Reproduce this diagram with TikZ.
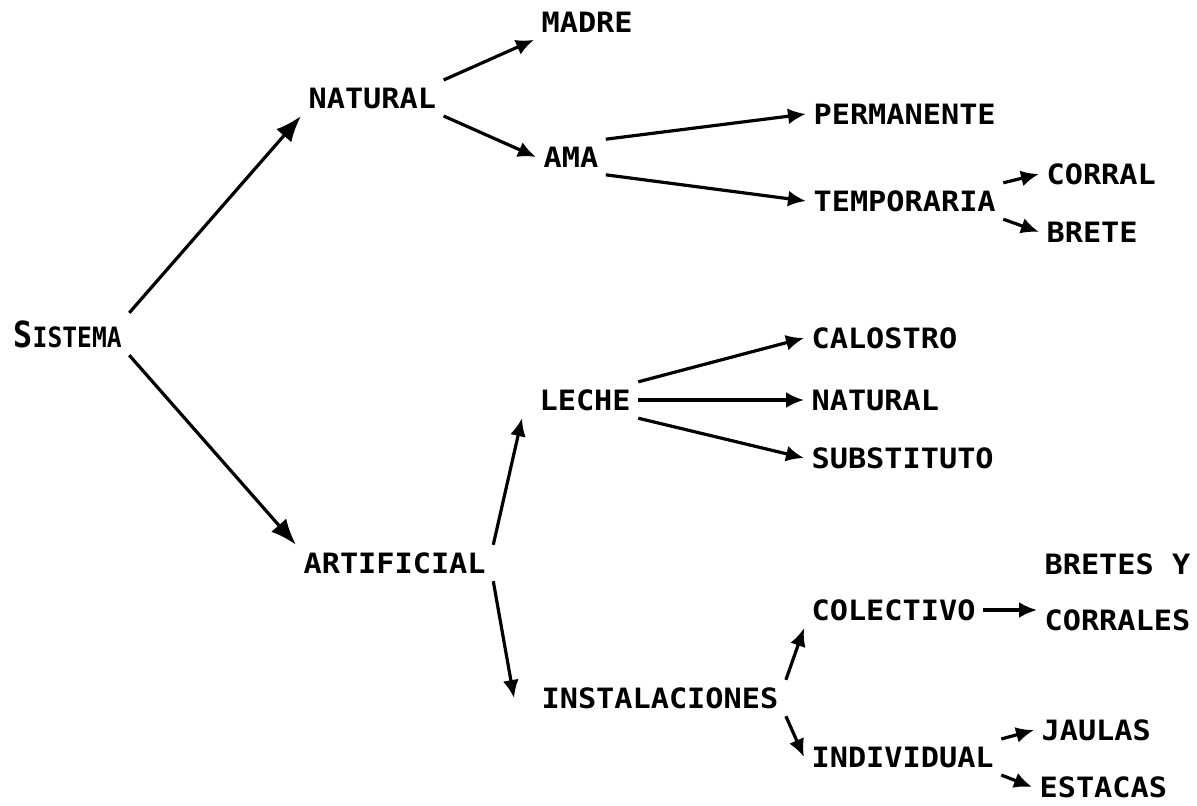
\documentclass[tikz,border=0pt]{standalone}
\usepackage{fontspec}
\usepackage{tikz}
\usetikzlibrary{arrows.meta,calc}

\newfontfamily\typefont[FakeStretch=1.08]{DejaVu Sans Mono Bold}
\newfontfamily\narrowfont[FakeStretch=0.88]{DejaVu Sans Mono Bold}
\newcommand{\lbl}{\typefont\fontsize{14pt}{16pt}\selectfont}

\begin{document}
\begin{tikzpicture}[x=0.5pt,y=-0.5pt,line width=1.6pt,-{Latex[length=9pt,width=8pt]},
  every node/.style={font=\lbl,inner sep=3pt,anchor=west},
  big/.style={-{Latex[length=13pt,width=10pt]}}]
  \useasboundingbox (0,0) rectangle (1197,805);

  \node (sis)   at (6,334)    {\narrowfont\fontsize{18pt}{20pt}\selectfont S\fontsize{14pt}{16pt}\selectfont ISTEMA};
  \node (nat)   at (301,98)   {NATURAL};
  \node (mad)   at (534,22)   {MADRE};
  \node (ama)   at (536,157)  {AMA};
  \node (perm)  at (806,114)  {PERMANENTE};
  \node (temp)  at (806,201)  {TEMPORARIA};
  \node (corr)  at (1039,174) {CORRAL};
  \node (bret)  at (1039,232) {BRETE};
  \node (art)   at (296,563)  {ARTIFICIAL};
  \node (lech)  at (532,400)  {LECHE};
  \node (calo)  at (804,338)  {CALOSTRO};
  \node (nat2)  at (804,400)  {NATURAL};
  \node (subs)  at (804,458)  {SUBSTITUTO};
  \node (inst)  at (534,698)  {INSTALACIONES};
  \node (colec) at (804,610)  {COLECTIVO};
  \node[align=left] (brc) at (1037,592) {BRETES Y\\[12pt]CORRALES};
  \node (indiv) at (804,757)  {INDIVIDUAL};
  \node (jaul)  at (1034,730) {JAULAS};
  \node (est)   at (1032,787) {ESTACAS};

  \path (sis.north east)  edge [big] (nat.south west)
        (sis.south east)  edge [big] (art.north west)
        (nat.north east)  edge       (mad.south west)
        (nat.south east)  edge       (ama.west)
        (ama.north east)  edge       (perm.west)
        (ama.south east)  edge       (temp.west)
        (temp.north east) edge       (corr.west)
        (temp.south east) edge       (bret.west)
        (art.north east)  edge       ([xshift=-5pt]lech.south west)
        (art.south east)  edge       ([xshift=-10pt]inst.west)
        (lech.north east) edge       (calo.west)
        (lech.east)       edge       (nat2.west)
        (lech.south east) edge       (subs.west)
        (inst.north east) edge       (colec.south west)
        (inst.south east) edge       (indiv.west)
        (colec.east)      edge       (colec.east -| brc.west)
        (indiv.north east) edge      (jaul.west)
        (indiv.south east) edge      (est.west);
\end{tikzpicture}
\end{document}
